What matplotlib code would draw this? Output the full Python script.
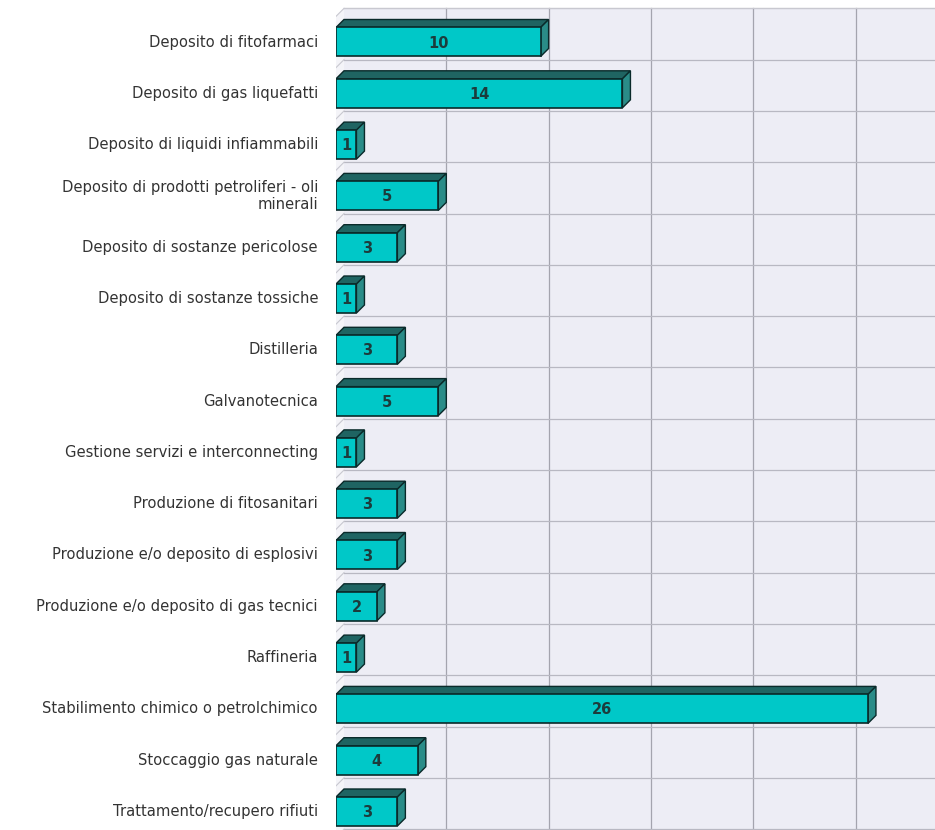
import matplotlib
matplotlib.use('Agg')
import matplotlib.pyplot as plt
from matplotlib.patches import Polygon, Rectangle

categories = [
    'Deposito di fitofarmaci',
    'Deposito di gas liquefatti',
    'Deposito di liquidi infiammabili',
    'Deposito di prodotti petroliferi - oli\nminerali',
    'Deposito di sostanze pericolose',
    'Deposito di sostanze tossiche',
    'Distilleria',
    'Galvanotecnica',
    'Gestione servizi e interconnecting',
    'Produzione di fitosanitari',
    'Produzione e/o deposito di esplosivi',
    'Produzione e/o deposito di gas tecnici',
    'Raffineria',
    'Stabilimento chimico o petrolchimico',
    'Stoccaggio gas naturale',
    'Trattamento/recupero rifiuti',
]
values = [10, 14, 1, 5, 3, 1, 3, 5, 1, 3, 3, 2, 1, 26, 4, 3]
grid_ticks = [5, 10, 15, 20, 25]

W, H = 935, 830
fig = plt.figure(figsize=(W / 100, H / 100), dpi=100)
ax_left = 336 / W
ax = fig.add_axes([ax_left, 0, 1 - ax_left, 1])

px_x = 20.46   # pixels per unit
px_y = 51.3    # pixels per row
xmax = (W - 336) / px_x
ax.set_xlim(0, xmax)
ax.set_ylim((H - 42) / px_y, -42 / px_y)
ax.axis('off')

dx = 8 / px_x
dy = 8 / px_y
bar_h = 29 / px_y
n = len(categories)

front = '#00c8c8'
top_c = '#1f6462'
side_c = '#2a8c88'
wall = '#ededf5'
grid_c = '#a4a4ae'

# back wall
wall_top = -0.5 - dy
wall_bot = (H - 42) / px_y
ax.add_patch(Rectangle((dx, wall_top), xmax, wall_bot - wall_top, facecolor=wall, edgecolor='none', zorder=0))
# left side wall strip
ax.add_patch(Polygon([(0, wall_top + dy), (dx, wall_top), (dx, wall_bot), (0, wall_bot)],
                     closed=True, facecolor='#f4f4f8', edgecolor='none', zorder=0))
for t in grid_ticks:
    ax.plot([t + dx, t + dx], [wall_top, wall_bot], color=grid_c, lw=0.9, zorder=1)
for i in range(n + 1):
    yb = i - 0.5 - dy
    ax.plot([dx, xmax], [yb, yb], color='#b8b8c2', lw=0.9, zorder=1)
    ax.plot([0, dx], [yb + dy, yb], color='#c8c8d0', lw=0.8, zorder=1)
ax.plot([dx, xmax], [wall_top, wall_top], color='#c8c8d0', lw=0.8, zorder=1)

for i, v in enumerate(values):
    y0 = i - bar_h / 2
    y1 = i + bar_h / 2
    ax.add_patch(Polygon([(0, y0), (dx, y0 - dy), (v + dx, y0 - dy), (v, y0)],
                         closed=True, facecolor=top_c, edgecolor='#0a2a2a', lw=1, zorder=3))
    ax.add_patch(Polygon([(v, y0), (v + dx, y0 - dy), (v + dx, y1 - dy), (v, y1)],
                         closed=True, facecolor=side_c, edgecolor='#0a2a2a', lw=1, zorder=3))
    ax.add_patch(Rectangle((0, y0), v, bar_h, facecolor=front, edgecolor='#0a2a2a', lw=1.2, zorder=4))
    ax.text(v / 2, i + 0.02, str(v), ha='center', va='center', fontsize=10.5, fontweight='bold',
            fontfamily='DejaVu Sans', color='#1c3c3c', zorder=5)

for i, c in enumerate(categories):
    ax.text(-18 / px_x, i, c, ha='right', va='center', fontsize=10.6,
            fontfamily='DejaVu Sans', color='#333333', linespacing=1.2, clip_on=False)

fig.savefig('out.png', dpi=100)
